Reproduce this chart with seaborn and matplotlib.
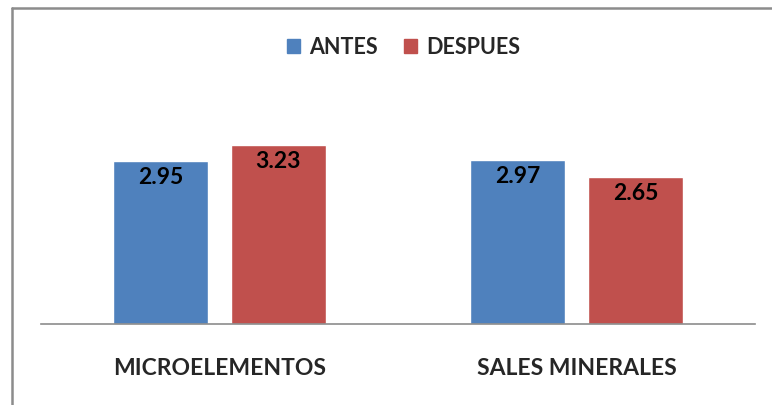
import pandas as pd
import matplotlib.pyplot as plt
import seaborn as sns
from matplotlib.patches import Rectangle
from matplotlib.lines import Line2D

# Data
categorias = ["MICROELEMENTOS", "SALES MINERALES"]
series = ["ANTES", "DESPUES"]
antes = [2.95, 2.97]
despues = [3.23, 2.65]
colores = ["#4F81BD", "#C0504D"]

df = pd.DataFrame({
    "categoria": categorias * 2,
    "serie": [series[0]] * 2 + [series[1]] * 2,
    "valor": antes + despues,
})

sns.set_style("white")
plt.rcParams["font.family"] = ["Lato", "DejaVu Sans"]

fig = plt.figure(figsize=(7.72, 4.05), dpi=100)
ax = fig.add_axes([41 / 772, 1 - 323.5 / 405, 714 / 772, 220.8 / 405])

sns.barplot(
    data=df, x="categoria", y="valor", hue="serie",
    palette=colores, width=0.66, gap=0.19, ax=ax, legend=False,
    saturation=1,
)

ax.set_ylim(0, 4.0)
ax.set_xlim(-0.5, 1.5)
ax.set_xlabel("")
ax.set_ylabel("")
ax.set_yticks([])
for s in ["top", "right", "left"]:
    ax.spines[s].set_visible(False)
ax.spines["bottom"].set_color("#8C8C8C")
ax.spines["bottom"].set_linewidth(1.2)
ax.tick_params(axis="x", length=0, pad=25)
for lbl in ax.get_xticklabels():
    lbl.set_fontsize(16.5)
    lbl.set_fontweight("bold")

# value labels inside the bars
for cont in ax.containers:
    for bar in cont:
        h = bar.get_height()
        ax.annotate(f"{h:.2f}", (bar.get_x() + bar.get_width() / 2, h),
                    xytext=(0, -12), textcoords="offset points",
                    ha="center", va="center", fontsize=16.5, fontweight="bold",
                    color="black")

# legend
handles = [Rectangle((0, 0), 1, 1, color=c) for c in colores]
fig.legend(handles, series, loc="center", bbox_to_anchor=(403.5 / 772, 1 - 47 / 405),
           ncol=2, frameon=False, handlelength=0.6, handleheight=0.6,
           handletextpad=0.45, columnspacing=1.2,
           prop={"size": 15.5, "weight": "bold"})

# chart border (only left and top edges visible)
x0, y0 = 12 / 772, 1 - 8 / 405
fig.add_artist(Line2D([x0, x0], [0, y0], transform=fig.transFigure,
                      color="#8C8C8C", linewidth=1.8))
fig.add_artist(Line2D([x0, 1], [y0, y0], transform=fig.transFigure,
                      color="#8C8C8C", linewidth=1.8))

fig.savefig("out.png", dpi=100)
